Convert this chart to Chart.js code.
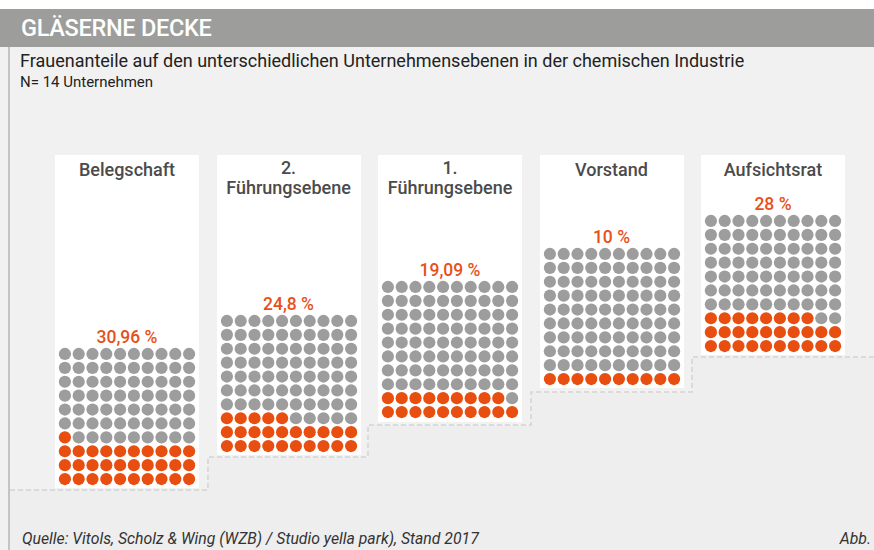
<!DOCTYPE html>
<html><head><meta charset="utf-8">
<script src="https://cdn.jsdelivr.net/npm/chart.js@4.4.0/dist/chart.umd.min.js"></script>
<style>
html,body{margin:0;padding:0;}
body{width:874px;height:550px;position:relative;overflow:hidden;background:#fff;font-family:Roboto,"Noto Sans",sans-serif;}
#bg{position:absolute;left:0;top:47px;width:874px;height:503px;background:#f1f1f1;}
#lline{position:absolute;left:8px;top:47px;width:2px;height:503px;background:#c4c4c4;}
#head{position:absolute;left:0;top:9px;width:874px;height:38px;background:#9d9d9b;}
#head span{position:absolute;left:21px;top:5px;color:#fff;font-size:23.5px;font-weight:500;letter-spacing:-0.3px;line-height:28px;}
#sub{position:absolute;left:20px;top:50px;font-size:18px;color:#222;line-height:22px;}
#n{position:absolute;left:20px;top:73px;font-size:15px;color:#222;line-height:18px;}
#foot{position:absolute;left:22px;top:529px;font-size:15.8px;font-style:italic;color:#333;line-height:20px;}
#abb{position:absolute;right:3px;top:529px;font-size:15.8px;font-style:italic;color:#333;line-height:20px;}
.panel{position:absolute;background:#fff;}
.ptitle{position:absolute;text-align:center;font-size:18px;font-weight:500;color:#4b4b4b;line-height:20px;}
.pct{position:absolute;text-align:center;font-size:17.5px;font-weight:500;color:#e8501a;line-height:20px;}
canvas{position:absolute;}
svg{position:absolute;left:0;top:0;}
</style></head>
<body>
<div id="bg"></div>
<svg width="874" height="550">
<path d="M10 490 H208 V457 H368 V425 H531 V392 H692 V357 H874 V550 H10 Z" fill="#eeeeee"/>
<path d="M10 490 H208 V457 H368 V425 H531 V392 H692 V357 H874" fill="none" stroke="#d4d4d4" stroke-width="1.5" stroke-dasharray="5,3"/>
</svg>
<div id="lline"></div>
<div id="head"><span>GLÄSERNE DECKE</span></div>
<div id="sub">Frauenanteile auf den unterschiedlichen Unternehmensebenen in der chemischen Industrie</div>
<div id="n">N= 14 Unternehmen</div>
<div id="foot">Quelle: Vitols, Scholz &amp; Wing (WZB) / Studio yella park), Stand 2017</div>
<div id="abb">Abb.</div>
<script>
// ---- data ----
const categories = [["Belegschaft"], ["2.", "Führungsebene"], ["1.", "Führungsebene"], ["Vorstand"], ["Aufsichtsrat"]];
const percentages = [30.96, 24.8, 19.09, 10, 28];
const percentLabels = ["30,96 %", "24,8 %", "19,09 %", "10 %", "28 %"];
const dotsPerRow = 10;
const dotRows = 10;

// ---- colours ----
const orange = "#e84e0f";
const grey = "#9d9d9d";

// ---- layout ----
const colStep = 13.8, rowStep = 13.9;
const cw = colStep * dotsPerRow, ch = rowStep * dotRows;

categories.forEach((cat, j) => {
  const firstCol = 65 + 161.5 * j;
  const bottomRow = 479 - 33.25 * j;
  const topRow = bottomRow - rowStep * (dotRows - 1);
  const left = firstCol - colStep / 2;
  const top = bottomRow + rowStep / 2 - ch;

  const panel = document.createElement('div');
  panel.className = 'panel';
  panel.style.left = (firstCol - 10) + 'px';
  panel.style.top = '155px';
  panel.style.width = '144px';
  panel.style.height = (bottomRow + 9 - 155) + 'px';
  document.body.appendChild(panel);

  const t = document.createElement('div');
  t.className = 'ptitle';
  t.style.left = (firstCol - 10) + 'px';
  t.style.width = '144px';
  t.style.top = (cat.length > 1 ? 158 : 160) + 'px';
  t.innerHTML = cat.join('<br>');
  document.body.appendChild(t);

  const p = document.createElement('div');
  p.className = 'pct';
  p.style.left = (firstCol - 10) + 'px';
  p.style.width = '144px';
  p.style.top = (topRow - 27) + 'px';
  p.textContent = percentLabels[j];
  document.body.appendChild(p);

  const cv = document.createElement('canvas');
  cv.width = Math.round(cw); cv.height = Math.round(ch);
  cv.style.left = left + 'px'; cv.style.top = top + 'px';
  cv.style.width = cv.width + 'px'; cv.style.height = cv.height + 'px';
  document.body.appendChild(cv);

  const nOrange = Math.round(percentages[j]);
  const on = [], off = [];
  for (let i = 0; i < dotsPerRow * dotRows; i++) {
    const pt = {x: i % dotsPerRow, y: Math.floor(i / dotsPerRow)};
    (i < nOrange ? on : off).push(pt);
  }
  new Chart(cv, {
    type: 'scatter',
    data: {datasets: [
      {data: on, backgroundColor: orange, borderWidth: 0, pointRadius: 6.1, clip: false},
      {data: off, backgroundColor: grey, borderWidth: 0, pointRadius: 6.1, clip: false}
    ]},
    options: {
      responsive: false, animation: false, devicePixelRatio: 1,
      layout: {padding: 0, autoPadding: false},
      scales: {
        x: {type: 'linear', min: -0.5, max: dotsPerRow - 0.5, display: false},
        y: {type: 'linear', min: -0.5, max: dotRows - 0.5, display: false}
      },
      plugins: {legend: {display: false}, tooltip: {enabled: false}}
    }
  });
});
</script>
</body></html>
